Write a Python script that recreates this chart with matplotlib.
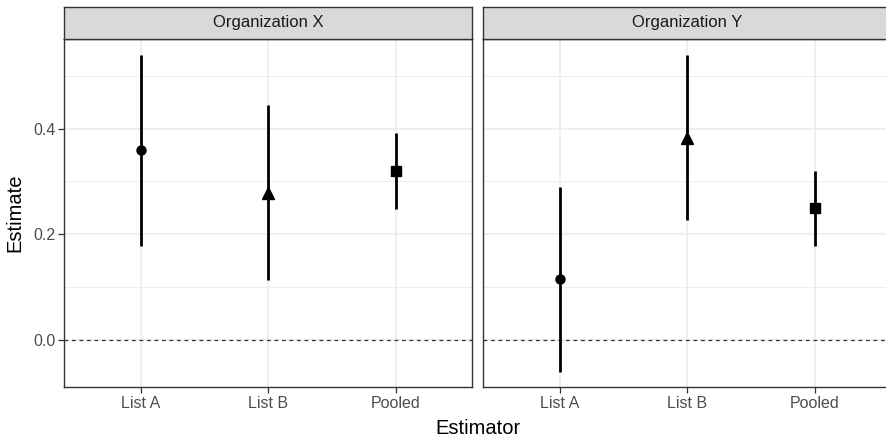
import matplotlib
matplotlib.use("Agg")
import matplotlib.pyplot as plt
from matplotlib.ticker import MultipleLocator

plt.rcParams['font.family'] = ['Liberation Sans', 'DejaVu Sans']

organizations = ["Organization X", "Organization Y"]
estimators = ["List A", "List B", "Pooled"]
estimates = {
    "Organization X": [0.359, 0.279, 0.319],
    "Organization Y": [0.115, 0.383, 0.249],
}
lower = {
    "Organization X": [0.178, 0.114, 0.247],
    "Organization Y": [-0.060, 0.227, 0.178],
}
upper = {
    "Organization X": [0.539, 0.445, 0.391],
    "Organization Y": [0.290, 0.539, 0.319],
}
markers = ["o", "^", "s"]
y_ticks = [0.0, 0.2, 0.4]
y_tick_labels = ["0.0", "0.2", "0.4"]

W, H = 887, 438
fig = plt.figure(figsize=(W / 100, H / 100), dpi=100)

def px_axes(left, top, right, bottom):
    return fig.add_axes([left / W, 1 - bottom / H, (right - left) / W, (bottom - top) / H])

panel_lefts = [64.3, 483.3]
panel_width = 407.7
p_top, p_bot = 39.0, 387.3
s_top = 7.0

ylim = (-0.0895, 0.5695)
for i, org in enumerate(organizations):
    l = panel_lefts[i]
    r = l + panel_width
    ax = px_axes(l, p_top, r, p_bot)
    ax.set_xlim(0.4, 3.6)
    ax.set_ylim(*ylim)
    ax.set_facecolor("white")
    ax.yaxis.set_minor_locator(MultipleLocator(0.1))
    ax.set_yticks(y_ticks)
    ax.set_xticks(range(1, len(estimators) + 1))
    ax.grid(True, which="major", color="#EBEBEB", linewidth=1.1, zorder=0)
    ax.grid(True, which="minor", axis="y", color="#EBEBEB", linewidth=0.6, zorder=0)
    ax.set_axisbelow(True)
    ax.tick_params(axis="both", which="major", length=4, width=0.9, color="#333333",
                   labelsize=11.5, labelcolor="#4D4D4D", pad=2)
    ax.tick_params(axis="y", which="minor", length=0)
    ax.set_xticklabels(estimators)
    if i == 0:
        ax.set_yticklabels(y_tick_labels)
    else:
        ax.tick_params(axis="y", which="both", left=False, labelleft=False)
    for sp in ax.spines.values():
        sp.set_color("#333333")
        sp.set_linewidth(1.0)
    if i == 1:
        ax.spines["right"].set_visible(False)
    ax.axhline(0, color="#333333", linestyle=(0, (3, 3)), linewidth=0.9, zorder=1)
    for j, est in enumerate(estimators):
        x = j + 1
        ax.vlines(x, lower[org][j], upper[org][j], color="black", linewidth=2.0, zorder=3)
        ax.plot(x, estimates[org][j], marker=markers[j], color="black",
                markersize=6.5 if markers[j] != "^" else 8, linestyle="none", zorder=4)
    # strip
    sax = px_axes(l, s_top, r, p_top)
    sax.set_facecolor("#D9D9D9")
    sax.set_xticks([])
    sax.set_yticks([])
    for sp in sax.spines.values():
        sp.set_color("#333333")
        sp.set_linewidth(1.0)
    if i == 1:
        sax.spines["right"].set_visible(False)
    sax.text(0.5, 0.5, org, ha="center", va="center", fontsize=12, color="#1A1A1A",
             transform=sax.transAxes)

fig.text(15 / W, 1 - ((p_top + p_bot) / 2) / H, "Estimate", rotation=90,
         ha="center", va="center", fontsize=14.5, color="black")
fig.text(((panel_lefts[0] + panel_lefts[1] + panel_width) / 2) / W, 1 - 428 / H, "Estimator",
         ha="center", va="center", fontsize=14.5, color="black")

fig.savefig("out.png", dpi=100, facecolor="white")
